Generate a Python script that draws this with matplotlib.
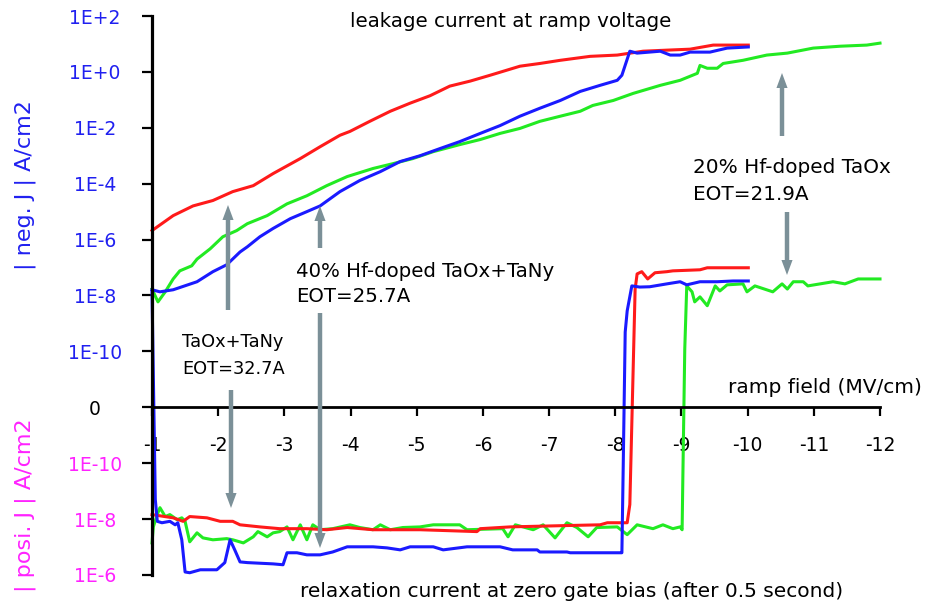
import numpy as np
import matplotlib.pyplot as plt
from matplotlib.patches import FancyArrowPatch
from matplotlib.ticker import NullLocator

plt.rcParams['font.family'] = ['DejaVu Sans']

# ramp field (MV/cm) and |J| (A/cm2) of the leakage current during the negative ramp
red_leak_E = [-1.00, -1.32, -1.62, -1.92, -2.22, -2.53, -2.83, -3.24, -3.54, -3.84, -3.99, -4.29,
              -4.60, -4.90, -5.20, -5.50, -5.81, -6.11, -6.56, -6.86, -7.17, -7.62, -8.03, -8.42,
              -8.78, -9.13, -9.48, -10.01]
red_leak_J = [2.1e-6, 7.2e-6, 1.6e-5, 2.5e-5, 5.2e-5, 8.5e-5, 2.3e-4, 7.9e-4, 2.1e-3, 5.4e-3, 7.4e-3, 1.7e-2,
              3.9e-2, 7.6e-2, 0.14, 0.31, 0.47, 0.76, 1.6, 2.0, 2.6, 3.6, 4.0, 5.5,
              6.0, 6.5, 9.1, 9.1]

blue_leak_E = [-1.00, -1.12, -1.32, -1.68, -1.92, -2.13, -2.33, -2.44, -2.63, -2.83, -3.09, -3.34,
               -3.54, -3.84, -4.14, -4.45, -4.75, -5.05, -5.35, -5.65, -5.96, -6.26, -6.56, -6.86,
               -7.17, -7.47, -7.77, -8.03, -8.10, -8.22, -8.33, -8.68, -8.83, -8.98, -9.13, -9.43,
               -9.69, -10.01]
blue_leak_J = [1.6e-8, 1.35e-8, 1.6e-8, 3.1e-8, 7.1e-8, 1.26e-7, 3.6e-7, 5.5e-7, 1.26e-6, 2.5e-6, 5.6e-6, 1.0e-5,
               1.6e-5, 5.2e-5, 1.3e-4, 2.7e-4, 6.2e-4, 1.0e-3, 1.8e-3, 3.2e-3, 6.3e-3, 1.2e-2, 2.6e-2, 5.0e-2,
               9.5e-2, 0.20, 0.33, 0.50, 0.76, 5.5, 4.7, 5.5, 4.0, 4.0, 5.1, 5.1,
               7.1, 7.8]

green_leak_E = [-1.00, -1.09, -1.20, -1.32, -1.42, -1.60, -1.68, -1.88, -2.07, -2.28, -2.44, -2.74,
                -3.04, -3.34, -3.64, -3.95, -4.34, -4.64, -4.94, -5.25, -5.65, -5.96, -6.26, -6.56,
                -6.86, -7.17, -7.47, -7.66, -7.97, -8.27, -8.68, -8.98, -9.24, -9.28, -9.39, -9.54,
                -9.63, -9.93, -10.29, -10.60, -10.99, -11.40, -11.80, -12.00]
green_leak_J = [1.7e-8, 5.9e-9, 1.35e-8, 3.9e-8, 7.6e-8, 1.15e-7, 2.0e-7, 4.7e-7, 1.26e-6, 2.1e-6, 3.7e-6, 7.2e-6,
                1.9e-5, 3.7e-5, 8.5e-5, 1.8e-4, 3.5e-4, 5.2e-4, 7.9e-4, 1.4e-3, 2.5e-3, 3.8e-3, 6.3e-3, 9.5e-3,
                1.7e-2, 2.6e-2, 3.9e-2, 6.3e-2, 9.5e-2, 0.17, 0.33, 0.50, 0.89, 1.7, 1.35, 1.35,
                2.0, 2.6, 4.0, 4.7, 7.1, 8.3, 9.1, 10.7]

# relaxation current at zero gate bias, signed (positive J before breakdown)
red_relax_E = [-1.00, -1.32, -1.47, -1.57, -1.83, -2.03, -2.22, -2.33, -2.63, -2.93, -3.34, -3.64,
               -3.95, -4.34, -5.05, -5.91, -5.96, -6.41, -7.27, -7.77, -7.88, -8.18, -8.22, -8.30,
               -8.33, -8.40, -8.49, -8.60, -8.78, -8.87, -9.28, -9.39, -10.01]
red_relax_J = [6.9e-9, 9.0e-9, 1.2e-8, 8.1e-9, 9.0e-9, 1.2e-8, 1.2e-8, 1.6e-8, 1.9e-8, 2.2e-8, 2.2e-8, 2.4e-8,
               2.0e-8, 2.4e-8, 2.4e-8, 2.8e-8, 2.2e-8, 1.9e-8, 1.7e-8, 1.6e-8, 1.35e-8, 1.35e-8, 3.0e-9, -1.7e-8,
               -5.9e-8, -7.1e-8, -3.9e-8, -6.5e-8, -7.1e-8, -7.6e-8, -8.3e-8, -9.8e-8, -9.8e-8]

blue_relax_E = [-1.00, -1.05, -1.08, -1.15, -1.27, -1.35, -1.39, -1.45, -1.50, -1.57, -1.73, -1.98,
                -2.10, -2.18, -2.25, -2.33, -2.44, -2.83, -2.98, -3.04, -3.19, -3.34, -3.54, -3.73,
                -3.95, -4.34, -4.55, -4.75, -4.90, -5.25, -5.40, -5.76, -6.26, -6.45, -6.82, -6.86,
                -7.27, -7.32, -8.07, -8.10, -8.12, -8.15, -8.18, -8.25, -8.37, -8.52, -8.78, -8.98,
                -9.08, -9.28, -9.54, -9.78, -10.01]
blue_relax_J = [-1.4e-8, 2.0e-9, 1.2e-8, 1.35e-8, 1.2e-8, 1.6e-8, 1.35e-8, 5.5e-8, 7.8e-7, 8.3e-7, 6.5e-7, 6.5e-7,
                3.6e-7, 5.5e-8, 1.26e-7, 3.4e-7, 3.6e-7, 4.0e-7, 4.3e-7, 1.6e-7, 1.6e-7, 1.9e-7, 1.9e-7, 1.5e-7,
                9.8e-8, 9.8e-8, 1.07e-7, 1.26e-7, 9.8e-8, 9.8e-8, 1.26e-7, 9.8e-8, 9.8e-8, 1.26e-7, 1.26e-7, 1.5e-7,
                1.5e-7, 1.6e-7, 1.6e-7, 1.6e-7, 1.3e-10, -4.9e-10, -2.8e-9, -2.2e-8, -2.0e-8, -2.05e-8, -2.6e-8, -3.1e-8,
                -2.4e-8, -3.1e-8, -3.1e-8, -3.3e-8, -3.3e-8]

green_relax_E = [-1.00, -1.02, -1.08, -1.12, -1.20, -1.27, -1.38, -1.45, -1.50, -1.57, -1.68, -1.77,
                 -1.92, -2.13, -2.22, -2.38, -2.53, -2.60, -2.74, -2.83, -2.93, -3.04, -3.13, -3.24,
                 -3.34, -3.43, -3.54, -3.73, -3.99, -4.14, -4.34, -4.45, -4.60, -4.79, -5.05, -5.25,
                 -5.65, -5.76, -6.30, -6.38, -6.49, -6.76, -6.91, -7.09, -7.27, -7.42, -7.59, -7.72,
                 -8.03, -8.18, -8.33, -8.57, -8.72, -8.87, -8.98, -9.01, -9.02, -9.05, -9.08, -9.16,
                 -9.20, -9.28, -9.39, -9.51, -9.58, -9.69, -9.93, -9.99, -10.11, -10.38, -10.52, -10.60,
                 -10.69, -10.84, -10.91, -11.29, -11.47, -11.67, -12.00]
green_relax_J = [7.1e-8, 1.9e-8, 6.9e-9, 3.9e-9, 8.1e-9, 6.9e-9, 1.05e-8, 9.0e-9, 1.2e-8, 6.5e-8, 3.1e-8, 4.7e-8,
                 5.5e-8, 5.0e-8, 5.5e-8, 7.1e-8, 4.3e-8, 2.8e-8, 4.3e-8, 3.1e-8, 2.8e-8, 1.9e-8, 5.5e-8, 1.6e-8,
                 5.5e-8, 1.6e-8, 2.4e-8, 2.2e-8, 1.6e-8, 2.0e-8, 2.4e-8, 1.6e-8, 2.4e-8, 2.0e-8, 1.9e-8, 1.6e-8,
                 1.6e-8, 2.4e-8, 2.2e-8, 4.3e-8, 1.6e-8, 2.4e-8, 1.6e-8, 4.7e-8, 1.35e-8, 2.0e-8, 4.3e-8, 2.0e-8,
                 1.9e-8, 3.6e-8, 1.6e-8, 2.2e-8, 1.6e-8, 2.2e-8, 1.9e-8, 2.4e-8, 4.9e-10, -1.2e-10, -2.2e-8, -1.35e-8,
                 -5.9e-9, -8.9e-9, -4.3e-9, -2.2e-8, -1.45e-8, -2.4e-8, -2.6e-8, -1.35e-8, -2.2e-8, -1.35e-8, -2.6e-8, -1.7e-8,
                 -3.1e-8, -3.1e-8, -2.2e-8, -3.1e-8, -2.6e-8, -3.9e-8, -3.9e-8]

x_ticks = [-1, -2, -3, -4, -5, -6, -7, -8, -9, -10, -11, -12]
y_ticks = [1e2, 1e0, 1e-2, 1e-4, 1e-6, 1e-8, 1e-10, 0, -1e-10, -1e-8, -1e-6]
y_labels = ['1E+2', '1E+0', '1E-2', '1E-4', '1E-6', '1E-8', '1E-10', '0', '1E-10', '1E-8', '1E-6']

RED = '#ff1a1a'
BLUE = '#1a1aff'
GREEN = '#22ea22'
NEG_COLOR = '#2020f0'
POS_COLOR = '#ff22ff'
ARROW = '#7b9098'

W, H = 925, 613


def fig_xy(px, py):
    return px / W, 1 - py / H


fig = plt.figure(figsize=(W / 100, H / 100), dpi=100)
ax = fig.add_axes([152 / W, 1 - 575 / H, 728 / W, 559 / H])

# negative current is drawn upward, positive current downward
ax.set_yscale('symlog', linthresh=1e-12, linscale=0.001)
ax.set_ylim(-1e-6, 1e2)
ax.set_xlim(-1, -12)

lw = 2.2
ax.plot(green_leak_E, green_leak_J, color=GREEN, lw=lw, clip_on=False)
ax.plot(green_relax_E, -np.array(green_relax_J), color=GREEN, lw=lw, clip_on=False)
ax.plot(red_leak_E, red_leak_J, color=RED, lw=lw, clip_on=False)
ax.plot(red_relax_E, -np.array(red_relax_J), color=RED, lw=lw, clip_on=False)
ax.plot(blue_leak_E, blue_leak_J, color=BLUE, lw=lw, clip_on=False)
ax.plot(blue_relax_E, -np.array(blue_relax_J), color=BLUE, lw=lw, clip_on=False)

for side in ['top', 'right']:
    ax.spines[side].set_visible(False)
ax.spines['bottom'].set_position(('data', 0))
ax.spines['bottom'].set_linewidth(2.0)
ax.spines['left'].set_linewidth(2.3)

ax.set_xticks(x_ticks)
ax.set_xticklabels([str(v) for v in x_ticks])
ax.tick_params(axis='x', direction='out', length=6.5, width=1.6, pad=14.5, labelsize=13.5)

ax.set_yticks(y_ticks)
ax.set_yticklabels(y_labels)
ax.yaxis.set_minor_locator(NullLocator())
ax.tick_params(axis='y', direction='out', length=7.2, width=1.6, pad=33.8, labelsize=13.5)
for lbl, val in zip(ax.get_yticklabels(), y_ticks):
    lbl.set_horizontalalignment('center')
    if val > 0:
        lbl.set_color(NEG_COLOR)
    elif val < 0:
        lbl.set_color(POS_COLOR)
    else:
        lbl.set_color('black')

fig.text(*fig_xy(25, 185), '| neg. J | A/cm2', rotation=90, ha='center', va='center',
         fontsize=16, color=NEG_COLOR)
fig.text(*fig_xy(25, 505), '| posi. J | A/cm2', rotation=90, ha='center', va='center',
         fontsize=16, color=POS_COLOR)

fig.text(*fig_xy(350, 27), 'leakage current at ramp voltage', fontsize=14.3, va='baseline')
fig.text(*fig_xy(728, 393), 'ramp field (MV/cm)', fontsize=14.5, va='baseline')
fig.text(*fig_xy(300, 597), 'relaxation current at zero gate bias (after 0.5 second)',
         fontsize=14.5, va='baseline')

fig.text(*fig_xy(182, 347), 'TaOx+TaNy', fontsize=12.8, va='baseline')
fig.text(*fig_xy(182, 374), 'EOT=32.7A', fontsize=12.8, va='baseline')
fig.text(*fig_xy(296, 277), '40% Hf-doped TaOx+TaNy', fontsize=14.2, va='baseline')
fig.text(*fig_xy(296, 302), 'EOT=25.7A', fontsize=14.2, va='baseline')
fig.text(*fig_xy(693, 173), '20% Hf-doped TaOx', fontsize=14.4, va='baseline')
fig.text(*fig_xy(693, 200), 'EOT=21.9A', fontsize=14.4, va='baseline')

# pointer arrows from the labels to the curves (tail, tip) in pixels
arrows = [((228, 310), (228, 205)), ((231, 390), (231, 508)),
          ((320, 248), (320, 206)), ((320, 313), (320, 548)),
          ((782, 136), (782, 73)), ((787, 212), (787, 275))]
for tail, tip in arrows:
    arr = FancyArrowPatch(fig_xy(*tail), fig_xy(*tip), transform=fig.transFigure,
                          arrowstyle='simple,head_length=0.54,head_width=0.4,tail_width=0.16',
                          mutation_scale=20, facecolor=ARROW, edgecolor='none',
                          shrinkA=0, shrinkB=0)
    fig.patches.append(arr)

fig.savefig('out.png', dpi=100)
